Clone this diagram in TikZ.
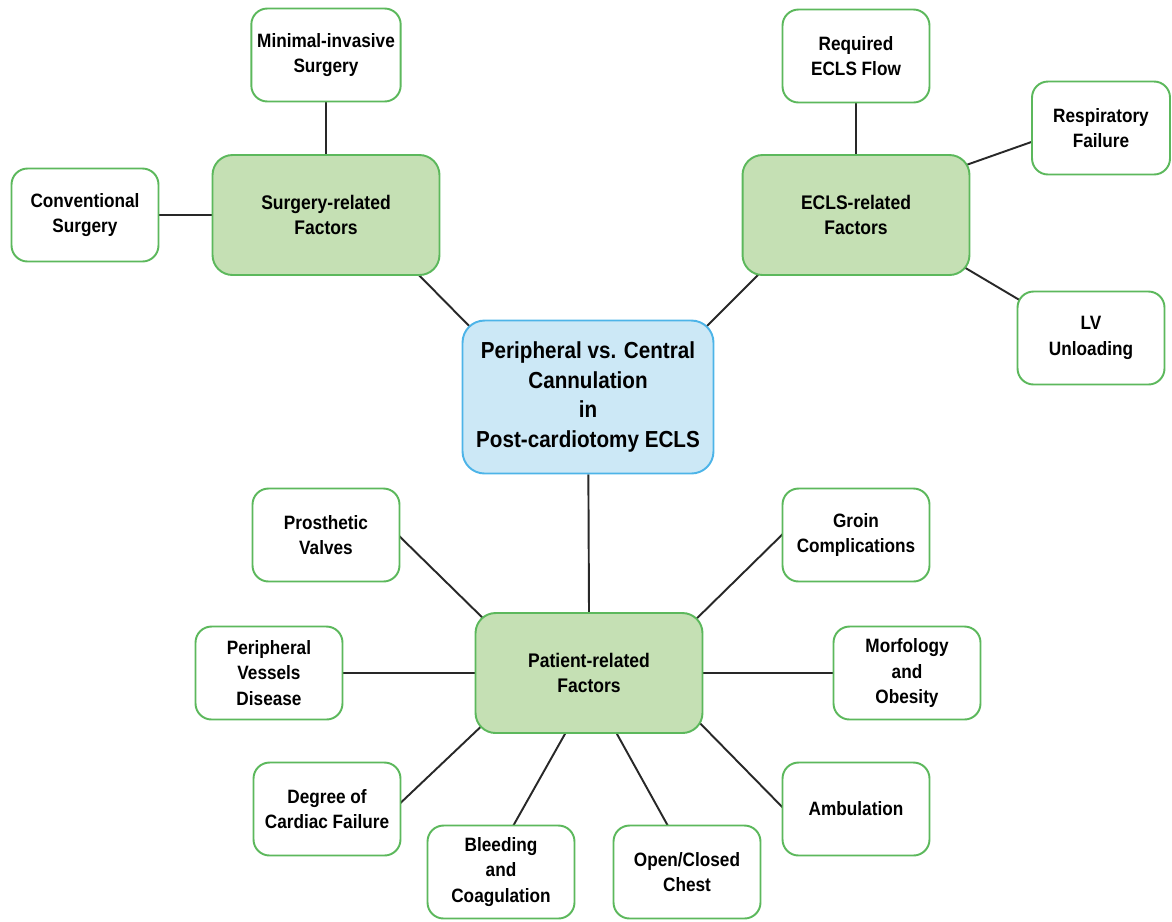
\documentclass[tikz,border=0pt]{standalone}
\usepackage{fontspec}
\setmainfont{Liberation Sans}[FakeStretch=0.89]
\usepackage{tikz}
\usetikzlibrary{calc}
\usetikzlibrary{backgrounds}
\definecolor{leafline}{RGB}{92,184,92}
\definecolor{factorfill}{RGB}{197,224,180}
\definecolor{mainfill}{RGB}{204,232,246}
\definecolor{mainline}{RGB}{77,180,232}
\definecolor{linkcol}{RGB}{40,40,40}
\tikzstyle{leafnode} = [draw=leafline, fill=white, line width=1.1pt, rounded corners=0.32cm, minimum width=2.94cm, minimum height=1.86cm, align=center, font=\fontsize{11}{14.7}\selectfont\bfseries]
\tikzstyle{factornode} = [draw=leafline, fill=factorfill, line width=1.1pt, rounded corners=0.4cm, minimum width=4.54cm, minimum height=2.4cm, align=center, font=\fontsize{11.2}{14.7}\selectfont\bfseries]
\tikzstyle{mainnode} = [draw=mainline, fill=mainfill, line width=1.1pt, rounded corners=0.44cm, minimum width=5.02cm, minimum height=3.06cm, align=center, font=\fontsize{13.2}{17}\selectfont\bfseries]
\tikzstyle{link} = [draw=linkcol, line width=1.1pt]
\begin{document}
\begin{tikzpicture}[x=0.02cm, y=-0.02cm]
    \useasboundingbox (0,0) rectangle (1172,921);

    \node[mainnode] (cannulation) at (588,397) {Peripheral vs. Central\\Cannulation\\in\\Post-cardiotomy ECLS};

    \node[factornode] (surgery) at (326,215) {Surgery-related\\Factors};
    \node[factornode] (ecls) at (856,215) {ECLS-related\\Factors};
    \node[factornode] (patient) at (589,673) {Patient-related\\Factors};

    \node[leafnode] (minimal) at (326,55) {Minimal-invasive\\Surgery};
    \node[leafnode] (conventional) at (85,215) {Conventional\\Surgery};

    \node[leafnode] (flow) at (856,56) {Required\\ECLS Flow};
    \node[leafnode, minimum width=2.76cm] (respiratory) at (1101,128) {Respiratory\\Failure};
    \node[leafnode] (unloading) at (1091,338) {LV\\Unloading};

    \node[leafnode] (valves) at (326,535) {Prosthetic\\Valves};
    \node[leafnode] (groin) at (856,535) {Groin\\Complications};
    \node[leafnode] (vessels) at (269,673) {Peripheral\\Vessels\\Disease};
    \node[leafnode] (obesity) at (907,673) {Morfology\\and\\Obesity};
    \node[leafnode] (failure) at (327,809) {Degree of\\Cardiac Failure};
    \node[leafnode] (ambulation) at (856,809) {Ambulation};
    \node[leafnode] (bleeding) at (501,872) {Bleeding\\and\\Coagulation};
    \node[leafnode] (chest) at (687,872) {Open/Closed\\Chest};

    \begin{scope}[on background layer]
    \draw[link] (minimal) -- (surgery);
    \draw[link] (conventional) -- (surgery);
    \draw[link] ($(surgery)+(84,51)$) -- ($(cannulation)+(-108,-60)$);

    \draw[link] (flow) -- (ecls);
    \draw[link] ($(ecls)+(96,-45)$) -- ($(respiratory)+(-30,0)$);
    \draw[link] ($(ecls)+(96,45)$) -- ($(unloading)+(-58,-30)$);
    \draw[link] ($(ecls)+(-88,50)$) -- ($(cannulation)+(110,-62)$);

    \draw[link] (cannulation) -- (patient.north);

    \draw[link] ($(valves)+(64,-8)$) -- ($(patient)+(-97,-46)$);
    \draw[link] ($(groin)+(-61,-13)$) -- ($(patient)+(96,-43)$);
    \draw[link] (vessels) -- (patient);
    \draw[link] (obesity) -- (patient);
    \draw[link] ($(patient)+(-99,45)$) -- ($(failure)+(65,2)$);
    \draw[link] ($(patient)+(-19,52)$) -- ($(bleeding)+(7,-37)$);
    \draw[link] ($(patient)+(23,52)$) -- ($(chest)+(-14,-37)$);
    \draw[link] ($(patient)+(103,42)$) -- ($(ambulation)+(-64,8)$);
    \end{scope}
\end{tikzpicture}
\end{document}
